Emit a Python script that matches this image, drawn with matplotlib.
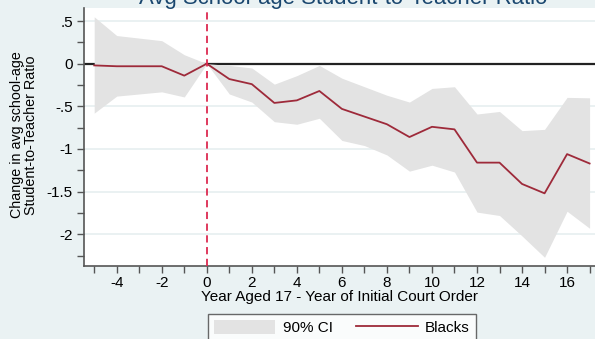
import numpy as np
import matplotlib.pyplot as plt
from matplotlib.patches import Patch
from matplotlib.lines import Line2D

plt.rcParams['font.family'] = ['Liberation Sans', 'DejaVu Sans']

# event-time coefficients and 90% confidence bounds
years = [-5, -4, -3, -2, -1, 0, 1, 2, 3, 4, 5, 6, 7, 8, 9, 10, 11, 12, 13, 14, 15, 16, 17]
coef = [-0.02, -0.03, -0.03, -0.03, -0.14, 0.0, -0.18, -0.24, -0.46, -0.43, -0.32, -0.53,
        -0.62, -0.71, -0.86, -0.74, -0.77, -1.16, -1.16, -1.41, -1.52, -1.06, -1.17]
ci_upper = [0.55, 0.33, 0.30, 0.27, 0.105, 0.0, -0.02, -0.05, -0.24, -0.14, -0.02, -0.17,
            -0.27, -0.37, -0.45, -0.29, -0.27, -0.59, -0.56, -0.785, -0.77, -0.395, -0.40]
ci_lower = [-0.58, -0.38, -0.355, -0.33, -0.39, 0.0, -0.355, -0.45, -0.68, -0.71, -0.64, -0.90,
            -0.96, -1.07, -1.26, -1.19, -1.27, -1.74, -1.78, -2.02, -2.27, -1.73, -1.93]

bg = '#eaf2f3'
fig = plt.figure(figsize=(5.95, 3.39), dpi=100, facecolor=bg)
ax = fig.add_axes([84 / 595, 1 - 266 / 339, 1 - 84 / 595, (266 - 8) / 339])
ax.set_facecolor('white')

for yv in np.arange(-2, 0.75, 0.5):
    ax.axhline(yv, color='#e6eff0', lw=1.2, zorder=0)
ax.axhline(0, color='#222222', lw=1.6, zorder=1)

ax.fill_between(years, ci_lower, ci_upper, color='#e3e3e3', lw=0, zorder=2)
ax.plot(years, coef, color='#9e2a3a', lw=1.3, zorder=3)
ax.axvline(0, color='#dc2a50', lw=1.3, ls=(0, (4, 2.5)), zorder=4)

ax.set_xlim(-5.453, 17.24)
ax.set_ylim(-2.372, 0.653)

ax.set_xticks(np.arange(-5, 18, 1), minor=True)
ax.set_xticks(np.arange(-4, 17, 2))
ax.set_xticklabels([str(v) for v in range(-4, 17, 2)])
ax.set_yticks(np.arange(-2.25, 0.6, 0.25), minor=True)
ax.set_yticks([-2, -1.5, -1, -0.5, 0, 0.5])
ax.set_yticklabels(['-2', '-1.5', '-1', '-.5', '0', '.5'])
ax.tick_params(axis='both', which='both', direction='out', length=5, width=1, color='#555555',
               labelsize=11, labelcolor='black')
ax.tick_params(axis='y', pad=3)
ax.tick_params(axis='x', pad=2)

for side in ['top', 'right']:
    ax.spines[side].set_visible(False)
for side in ['left', 'bottom']:
    ax.spines[side].set_color('#555555')
    ax.spines[side].set_linewidth(1.2)

ax.set_xlabel('Year Aged 17 - Year of Initial Court Order', fontsize=11, labelpad=0)
ax.set_ylabel('Change in avg school-age\nStudent-to-Teacher Ratio', fontsize=10.3,
              linespacing=0.95, va='center')
ax.yaxis.set_label_coords(-0.117, 0.508)

fig.text(343 / 595, 1 - 4 / 339, 'Avg School-age Student-to-Teacher Ratio', ha='center',
         va='baseline', fontsize=15.9, color='#1a476f')

handles = [Patch(facecolor='#e3e3e3', edgecolor='none'),
           Line2D([], [], color='#9e2a3a', lw=1.3)]
leg = fig.legend(handles, ['90% CI', 'Blacks'], loc='upper center',
                 bbox_to_anchor=(342 / 595, 1 - 314 / 339), borderaxespad=0,
                 ncol=2, fontsize=11, frameon=True, fancybox=False, edgecolor='#444444',
                 handlelength=4.0, handleheight=1.0, handletextpad=0.5, columnspacing=1.55,
                 borderpad=0.4)
leg.get_frame().set_linewidth(1.0)

fig.savefig('out.png', dpi=100, facecolor=bg)
